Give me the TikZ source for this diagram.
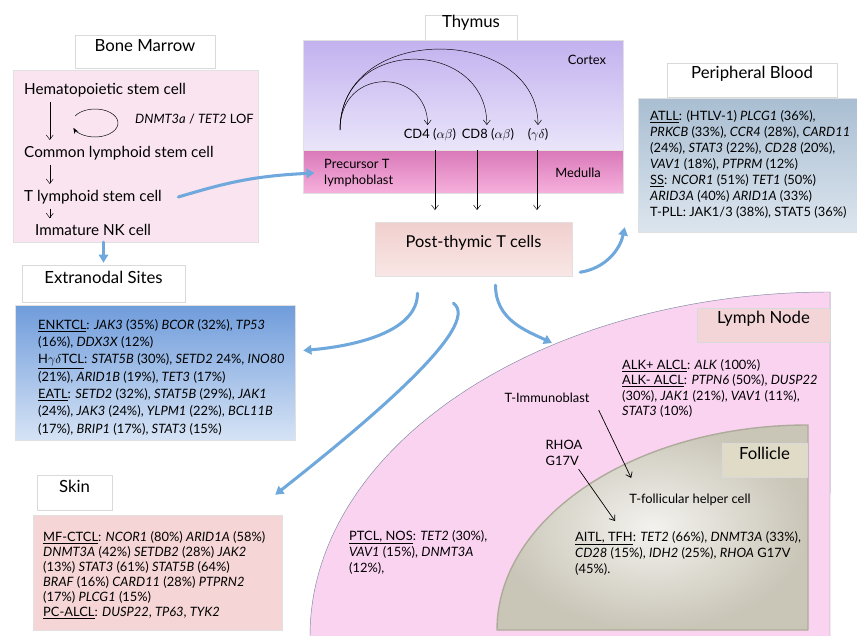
\documentclass[tikz,border=0pt]{standalone}
\usepackage{fontspec}
\setmainfont{Lato}
\usetikzlibrary{arrows.meta,fit,shadows}
\newcommand\fsz[2]{\fontsize{#1}{#2}\selectfont}
\newcommand\gn[1]{\textit{#1}}
\definecolor{flowblue}{HTML}{6FA8DC}
\definecolor{bmpink}{HTML}{F9E4F0}
\definecolor{cortex1}{HTML}{C2B1EF}
\definecolor{cortex2}{HTML}{EAE5FA}
\definecolor{med1}{HTML}{D978B8}
\definecolor{med2}{HTML}{F6B0DD}
\definecolor{pt1}{HTML}{F0CFCE}
\definecolor{pt2}{HTML}{F9E7E5}
\definecolor{pb1}{HTML}{A9BED2}
\definecolor{pb2}{HTML}{DCE5EE}
\definecolor{ex1}{HTML}{6F9CDB}
\definecolor{ex2}{HTML}{D6E3F5}
\definecolor{skpink}{HTML}{F5D5D5}
\definecolor{lnpink}{HTML}{FAD3F1}
\definecolor{lnline}{HTML}{7F8A9E}
\definecolor{lntag}{HTML}{F3D5D8}
\definecolor{folin}{HTML}{F3F2EE}
\definecolor{folout}{HTML}{C9C5B7}
\definecolor{folline}{HTML}{AFAB9B}
\definecolor{foltag}{HTML}{DFDBC7}
\tikzset{
  tag/.style={draw=black!15, fill=white, inner sep=0pt, font=\fsz{14.3}{17},
    drop shadow={opacity=.3, shadow xshift=1.2pt, shadow yshift=-1.2pt}},
  panel/.style={draw=black!12, inner sep=0pt,
    drop shadow={opacity=.2, shadow xshift=1.2pt, shadow yshift=-1.2pt}},
  genes/.style={anchor=north west, align=left, inner sep=0pt, font=\fsz{11}{#1}},
  genes/.default=14pt,
  txt/.style={inner sep=0pt, font=\fsz{11}{14}},
  flow/.style={flowblue, line width=2.6pt, line cap=round, -{Triangle[length=7pt, width=8pt]}},
}
\begin{document}
\begin{tikzpicture}[x=0.03cm, y=-0.03cm, line join=round, >={Straight Barb[length=4pt, width=6pt]}, font=\fsz{13}{15}]
\useasboundingbox (0,0) rectangle (857,636);
% lymph node and follicle
\fill[lnpink] (310,636) arc[start angle=180, end angle=90, x radius=15.6cm, y radius=10.32cm] -- (830,636) -- cycle;
\draw[lnline] (310,636) arc[start angle=180, end angle=90, x radius=15.6cm, y radius=10.32cm] -- (830,636);
\shadedraw[draw=folline, line width=1.2pt, inner color=folin, outer color=folout] (497,630) arc[start angle=180, end angle=90, x radius=9.33cm, y radius=6.15cm] -- (808,630) -- cycle;
% boxes
\node[panel, fill=bmpink, fit={(13,70) (258,242)}] (bm) {};
\node[tag, fit={(75,35) (215,68)}] (bmt) {Bone Marrow};
\node[tag, fit={(425,15) (517,42)}] (tht) {Thymus};
\node[panel, top color=cortex1, bottom color=cortex2, fit={(303,40) (623,150)}] (cor) {};
\node[panel, top color=med1, bottom color=med2, fit={(303,150) (623,193)}] (med) {};
\node[panel, top color=pt1, bottom color=pt2, fit={(375,222) (572,276)}, font=\fsz{14}{17}] (pt) {Post-thymic T cells};
\node[panel, top color=pb1, bottom color=pb2, fit={(638,98) (870,232)}] (pb) {};
\node[tag, fit={(667,63) (837,97)}] (pbt) {Peripheral Blood};
\node[panel, top color=ex1, bottom color=ex2, fit={(15,305) (295,440)}] (ex) {};
\node[tag, fit={(22,265) (185,302)}] (ext) {Extranodal Sites};
\node[panel, fill=skpink, fit={(33,515) (282,630)}] (sk) {};
\node[tag, fit={(37,475) (112,510)}] (skt) {Skin};
\node[tag, fill=lntag, fit={(697,308) (830,342)}] (lnt) {Lymph Node};
\node[tag, fill=foltag, fit={(722,443) (807,477)}] (folt) {Follicle};
% bone marrow
\node[anchor=west, inner sep=0pt] (hsc) at (24,90) {Hematopoietic stem cell};
\node[anchor=west, inner sep=0pt] (clsc) at (24,153) {Common lymphoid stem cell};
\node[anchor=west, inner sep=0pt] (tlsc) at (24,197) {T lymphoid stem cell};
\node[anchor=west, inner sep=0pt] (nk) at (35,230) {Immature NK cell};
\node[txt, anchor=west] (lof) at (135,119) {\gn{DNMT3a} / \gn{TET2} LOF};
\foreach \a/\b in {hsc/clsc, clsc/tlsc, tlsc/nk}
  \draw[->, shorten <=4pt, shorten >=5pt] ([xshift=22pt]\a.south west) -- ([xshift=22pt]\a.south west |- \b.north);
\draw[-{Stealth[length=5pt]}] (95,123) ++(150:0.69cm and 0.42cm) arc[start angle=150, end angle=-160, x radius=0.69cm, y radius=0.42cm];
% thymus
\coordinate (src) at (340,130);
\node[txt] at (587,60) {Cortex};
\node[txt] at (578,173) {Medulla};
\node[txt, anchor=west, align=left] (prec) at (324,173) {Precursor T\\lymphoblast};
\node[txt, inner sep=3pt] (cd4) at (430,135) {CD4 ($\alpha\beta$)};
\node[txt, inner sep=3pt] (cd8) at (488,135) {CD8 ($\alpha\beta$)};
\node[txt, inner sep=3pt] (gd) at (538,135) {($\gamma\delta$)};
\draw[->] (src) .. controls +(0,-65) and +(0,-57) .. ([xshift=-2pt]cd4.north);
\draw[->] (src) .. controls +(0,-95) and +(0,-87) .. ([xshift=-1pt]cd8.north);
\draw[->] (src) .. controls +(0,-109) and +(0,-100) .. (gd.north);
\foreach \n/\s in {cd4/5, cd8/-11, gd/-1}
  \draw[->, shorten >=10pt] ([xshift=\s*.85pt]\n.south |- med.north) -- ([xshift=\s*.85pt]\n.south |- pt.north);
% gene lists
\node[genes=13.7pt] (pbg) at (650,110) {\underline{ATLL}: (HTLV-1) \gn{PLCG1} (36\%),\\
\gn{PRKCB} (33\%), \gn{CCR4} (28\%), \gn{CARD11}\\
(24\%), \gn{STAT3} (22\%), \gn{CD28} (20\%),\\
\gn{VAV1} (18\%), \gn{PTPRM} (12\%)\\
\underline{SS}: \gn{NCOR1} (51\%) \gn{TET1} (50\%)\\
\gn{ARID3A} (40\%) \gn{ARID1A} (33\%)\\
T-PLL: JAK1/3 (38\%), STAT5 (36\%)};
\node[genes=14.8pt] (exg) at (38,319) {\underline{ENKTCL}: \gn{JAK3} (35\%) \gn{BCOR} (32\%), \gn{TP53}\\
(16\%), \gn{DDX3X} (12\%)\\
\underline{H$\gamma\delta$TCL}: \gn{STAT5B} (30\%), \gn{SETD2} 24\%, \gn{INO80}\\
(21\%), \gn{ARID1B} (19\%), \gn{TET3} (17\%)\\
\underline{EATL}: \gn{SETD2} (32\%), \gn{STAT5B} (29\%), \gn{JAK1}\\
(24\%), \gn{JAK3} (24\%), \gn{YLPM1} (22\%), \gn{BCL11B}\\
(17\%), \gn{BRIP1} (17\%), \gn{STAT3} (15\%)};
\node[genes=12.8pt] (skg) at (43,531) {\underline{MF-CTCL}: \gn{NCOR1} (80\%) \gn{ARID1A} (58\%)\\
\gn{DNMT3A} (42\%) \gn{SETDB2} (28\%) \gn{JAK2}\\
(13\%) \gn{STAT3} (61\%) \gn{STAT5B} (64\%)\\
\gn{BRAF} (16\%) \gn{CARD11} (28\%) \gn{PTPRN2}\\
(17\%) \gn{PLCG1} (15\%)\\
\underline{PC-ALCL}: \gn{DUSP22}, \gn{TP63}, \gn{TYK2}};
\node[genes=13.2pt] (alk) at (622,359) {\underline{ALK+ ALCL}: \gn{ALK} (100\%)\\
\underline{ALK- ALCL}: \gn{PTPN6} (50\%), \gn{DUSP22}\\
(30\%), \gn{JAK1} (21\%), \gn{VAV1} (11\%),\\
\gn{STAT3} (10\%)};
\node[genes=13.7pt] (aitl) at (575,531) {\underline{AITL, TFH}: \gn{TET2} (66\%), \gn{DNMT3A} (33\%),\\
\gn{CD28} (15\%), \gn{IDH2} (25\%), \gn{RHOA} G17V\\
(45\%).};
\node[genes=13.7pt] (ptcl) at (349,530) {\underline{PTCL, NOS}: \gn{TET2} (30\%),\\
\gn{VAV1} (15\%), \gn{DNMT3A}\\
(12\%),};
% lymph node cells
\node[txt] (timm) at (547,398) {T-Immunoblast};
\node[txt, align=left] (rhoa) at (564,453) {RHOA\\G17V};
\node[txt] (tfh) at (690,500) {T-follicular helper cell};
\coordinate (lnin) at (552,343);
\draw[->, semithick] ([shift={(9,7)}]timm.south east) -- ([shift={(2,-16)}]tfh.north west);
\draw[->, semithick] ([shift={(-4,3)}]rhoa.south east) -- ([shift={(40,-10)}]aitl.north west);
% blue flows
\draw[flow] (bm.south -| ext.north) -- ([shift={(0,-2)}]ext.north);
\draw[flow] ([xshift=14pt]tlsc.east) .. controls +(50,-15) and +(-60,3) .. ([xshift=-8pt]prec.west);
\draw[flow] ([shift={(-56,17)}]pt.south) .. controls +(0,37) and +(57,-5) .. ([shift={(8,-22)}]ex.east);
\draw[flow] ([shift={(-20,27)}]pt.south) .. controls +(29,22) and +(95,-75) .. ([shift={(-7,-20)}]sk.north east);
\draw[flow] ([shift={(22,9)}]pt.south) .. controls +(0,35) and +(-25,-12) .. (lnin);
\draw[flow] ([shift={(8,-4)}]pt.south east) .. controls +(25,-4) and +(-5,23) .. ([shift={(-13,-5)}]pb.south west);
\end{tikzpicture}
\end{document}
